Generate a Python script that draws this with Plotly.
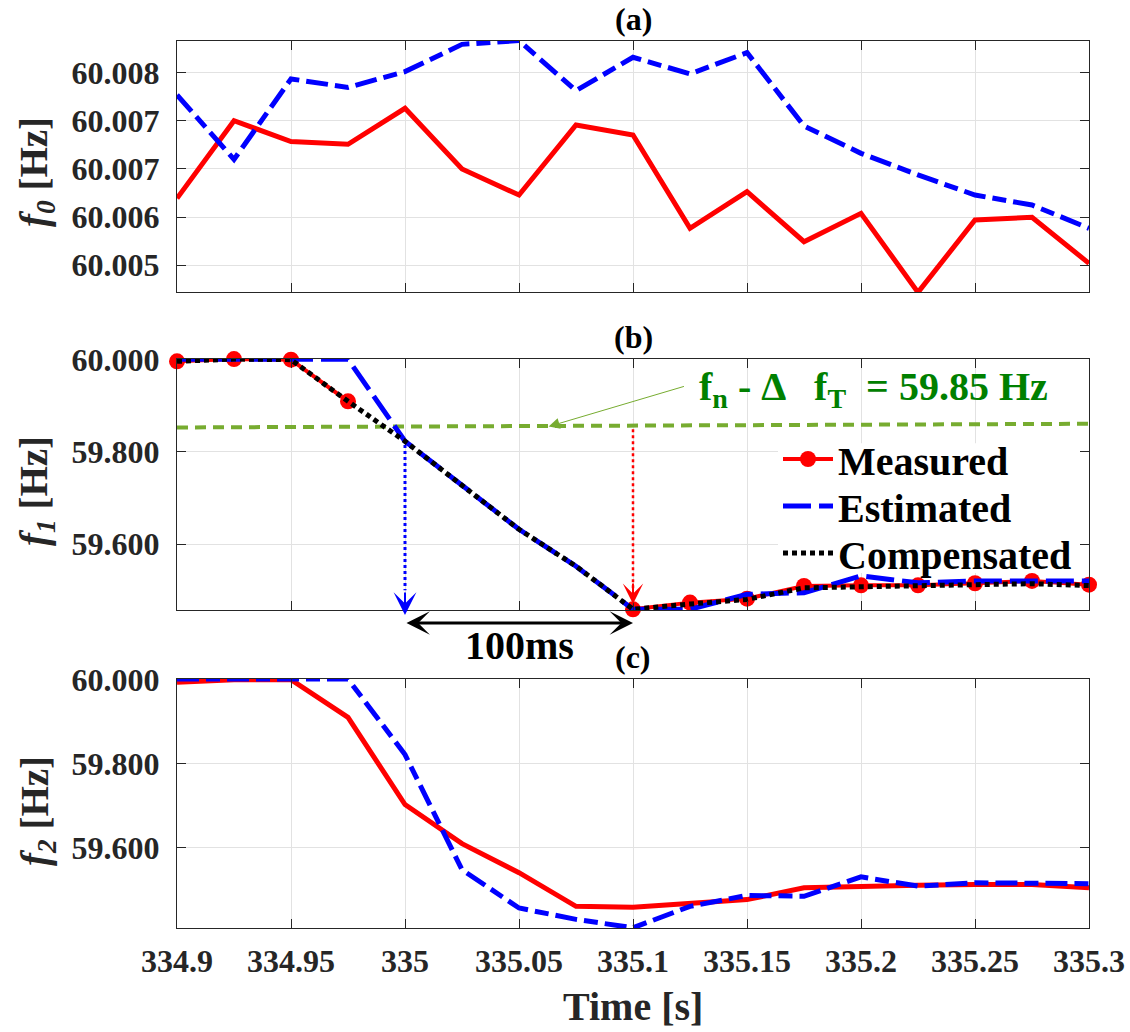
import plotly.graph_objects as go

# ---------------- data ----------------
time = [334.900, 334.925, 334.950, 334.975, 335.000, 335.025, 335.050, 335.075, 335.100,
        335.125, 335.150, 335.175, 335.200, 335.225, 335.250, 335.275, 335.300]

f0_measured = [60.006194, 60.007003, 60.006785, 60.006757, 60.007132, 60.006500, 60.006229, 60.006958,
               60.006854, 60.005882, 60.006264, 60.005743, 60.006038, 60.005215, 60.005969, 60.005997, 60.005517]
f0_estimated = [60.007271, 60.006600, 60.007438, 60.007350, 60.007514, 60.007798, 60.007837, 60.007316,
                60.007663, 60.007490, 60.007712, 60.006948, 60.006663, 60.006438, 60.006229, 60.006125, 60.005882]

f1_measured = [59.9964, 60.0014, 60.0000, 59.9097, None, None, None, None,
               59.4585, 59.4730, 59.4816, 59.5090, 59.5105, 59.5105, 59.5150, 59.5200, 59.5120]
f1_estimated = [60.0010, 60.0010, 60.0010, 60.0010, 59.8230, 59.7260, 59.6320, 59.5520,
                59.4585, 59.4585, 59.4910, 59.4946, 59.5310, 59.5160, 59.5200, 59.5200, 59.5200]
f1_compensated = [59.9964, 60.0014, 60.0000, 59.9097, 59.8230, 59.7260, 59.6320, 59.5520,
                  59.4585, 59.4700, 59.4800, 59.5050, 59.5080, 59.5100, 59.5120, 59.5140, 59.5100]

f2_measured = [59.9937, 60.0000, 60.0000, 59.9105, 59.7030, 59.6100, 59.5410, 59.4610,
               59.4590, 59.4690, 59.4770, 59.5050, 59.5090, 59.5110, 59.5130, 59.5130, 59.5050]
f2_estimated = [60.0016, 60.0016, 60.0016, 60.0016, 59.8220, 59.5480, 59.4570, 59.4300,
                59.4100, 59.4610, 59.4870, 59.4850, 59.5310, 59.5090, 59.5170, 59.5170, 59.5150]

threshold_time = [334.9, 335.3]
threshold_value = [59.853, 59.861]

cross_time = 335.0     # estimated crossing of threshold
settle_time = 335.1    # measured reaches bottom

x_tickvals = [334.9, 334.95, 335.0, 335.05, 335.1, 335.15, 335.2, 335.25, 335.3]
x_ticktext = ["334.9", "334.95", "335", "335.05", "335.1", "335.15", "335.2", "335.25", "335.3"]
ya_tickvals = [60.0075, 60.0070, 60.0065, 60.0060, 60.0055]
ya_ticktext = ["60.008", "60.007", "60.007", "60.006", "60.005"]
yb_tickvals = [59.6, 59.8, 60.0]
yb_ticktext = ["59.600", "59.800", "60.000"]

# ---------------- style ----------------
W, H = 1130, 1032
FONT = "Liberation Serif, 'Times New Roman', Times, serif"
RED, BLUE, BLACK = "#FF0000", "#0000FF", "#000000"
GREEN_LINE, GREEN_TEXT = "#77AC30", "#008000"
AX = "#262626"


def px_x(p):
    return p / W


def px_y(p):
    return 1 - p / H


fig = go.Figure()

# (a)
fig.add_trace(go.Scatter(x=time, y=f0_measured, mode="lines", line=dict(color=RED, width=5),
                         xaxis="x", yaxis="y", showlegend=False))
fig.add_trace(go.Scatter(x=time, y=f0_estimated, mode="lines",
                         line=dict(color=BLUE, width=5, dash="22px,7px,14px,7px"),
                         xaxis="x", yaxis="y", showlegend=False))

# (b)
fig.add_trace(go.Scatter(x=threshold_time, y=threshold_value, mode="lines",
                         line=dict(color=GREEN_LINE, width=4, dash="11px,7px"),
                         xaxis="x2", yaxis="y2", showlegend=False))
fig.add_trace(go.Scatter(x=time, y=f1_measured, mode="lines+markers", name="Measured",
                         line=dict(color=RED, width=4), marker=dict(color=RED, size=16),
                         connectgaps=False, cliponaxis=False, xaxis="x2", yaxis="y2",
                         legend="legend"))
fig.add_trace(go.Scatter(x=time, y=f1_estimated, mode="lines", name="Estimated",
                         line=dict(color=BLUE, width=5, dash="28px,8px"),
                         cliponaxis=False, xaxis="x2", yaxis="y2", legend="legend2"))
fig.add_trace(go.Scatter(x=time, y=f1_compensated, mode="lines", name="Compensated",
                         line=dict(color=BLACK, width=5, dash="5px,4px"),
                         cliponaxis=False, xaxis="x2", yaxis="y2", legend="legend3"))

# (c)
fig.add_trace(go.Scatter(x=time, y=f2_measured, mode="lines", line=dict(color=RED, width=5),
                         cliponaxis=False, xaxis="x3", yaxis="y3", showlegend=False))
fig.add_trace(go.Scatter(x=time, y=f2_estimated, mode="lines",
                         line=dict(color=BLUE, width=5, dash="22px,7px,14px,7px"),
                         cliponaxis=False, xaxis="x3", yaxis="y3", showlegend=False))

xdom = [px_x(177), px_x(1089)]
doms = {
    "a": [px_y(292), px_y(40.7)],
    "b": [px_y(610), px_y(359)],
    "c": [px_y(928), px_y(679)],
}

tickfont = dict(family=FONT, size=32, color=AX, weight="bold")
common = dict(showline=True, linecolor=AX, linewidth=1, mirror="ticks", ticks="inside",
              ticklen=9, tickwidth=1, tickcolor=AX, showgrid=True, gridcolor="#E2E2E2",
              gridwidth=1, zeroline=False, tickfont=tickfont, automargin=False)

xcommon = dict(common, range=[334.9, 335.3], tickvals=x_tickvals, ticktext=x_ticktext, domain=xdom)

legfont = dict(family=FONT, size=40, color=BLACK, weight="bold")
legcommon = dict(x=px_x(778), xanchor="left", yanchor="middle", bgcolor="rgba(0,0,0,0)",
                 borderwidth=0, itemwidth=50, font=legfont)

fig.update_layout(
    width=W, height=H,
    margin=dict(l=0, r=0, t=0, b=0, autoexpand=False),
    paper_bgcolor="white", plot_bgcolor="white",
    xaxis=dict(xcommon, anchor="y", showticklabels=False),
    xaxis2=dict(xcommon, anchor="y2", showticklabels=False),
    xaxis3=dict(xcommon, anchor="y3", showticklabels=True, ticklabelstandoff=5),
    yaxis=dict(common, anchor="x", domain=doms["a"], range=[60.005219, 60.007836],
               tickvals=ya_tickvals, ticktext=ya_ticktext, ticklabelstandoff=10),
    yaxis2=dict(common, anchor="x2", domain=doms["b"], range=[59.457, 60.0015],
                tickvals=yb_tickvals, ticktext=yb_ticktext, ticklabelstandoff=10),
    yaxis3=dict(common, anchor="x3", domain=doms["c"], range=[59.4095, 60.0016],
                tickvals=yb_tickvals, ticktext=yb_ticktext, ticklabelstandoff=10),
    legend=dict(legcommon, y=px_y(459)),
    legend2=dict(legcommon, y=px_y(506)),
    legend3=dict(legcommon, y=px_y(553)),
    showlegend=True,
)

# white area behind the legend (hides grid, stays under the traces)
fig.add_shape(type="rect", xref="x2", yref="y2", x0=335.1636, x1=335.2982, y0=59.537, y1=59.819,
              fillcolor="white", line=dict(width=0), layer="between")

# dotted guide lines (shapes)
fig.add_shape(type="line", xref="x2", yref="y2", x0=cross_time, x1=cross_time,
              y0=f1_compensated[4] - 0.008, y1=59.50,
              line=dict(color=BLUE, width=3, dash="3px,3px"))
fig.add_shape(type="line", xref="x2", yref="y2", x0=settle_time, x1=settle_time,
              y0=threshold_value[0] - 0.004, y1=59.50,
              line=dict(color=RED, width=2.5, dash="3px,3px"))

ann = []
tfont = dict(family=FONT, size=32, color=BLACK, weight="bold")
for label, py in [("(a)", 19), ("(b)", 337), ("(c)", 657)]:
    ann.append(dict(text=label, x=px_x(633), y=px_y(py), xref="paper", yref="paper",
                    xanchor="center", yanchor="middle", showarrow=False, font=tfont))

yfont = dict(family=FONT, size=39, color=AX, weight="bold")
for sub, py in [("0", 172), ("1", 491), ("2", 811)]:
    ann.append(dict(text="<i>f</i><sub><i>%s</i></sub> [Hz]" % sub, textangle=-90,
                    x=px_x(37), y=px_y(py), xref="paper", yref="paper",
                    xanchor="center", yanchor="middle", showarrow=False, font=yfont))

ann.append(dict(text="Time [s]", x=px_x(633), y=px_y(1006), xref="paper", yref="paper",
                xanchor="center", yanchor="middle", showarrow=False,
                font=dict(family=FONT, size=40, color=AX, weight="bold")))

# green threshold label and arrow
ann.append(dict(text="f<sub>n</sub> - Δ   f<sub>T</sub>  = 59.85 Hz", x=px_x(697), y=px_y(389),
                xref="paper", yref="paper", xanchor="left", yanchor="middle", showarrow=False,
                font=dict(family=FONT, size=40, color=GREEN_TEXT, weight="bold")))
ann.append(dict(text="", x=335.063, y=threshold_value[0] + 0.002, xref="x2", yref="y2",
                ax=335.123, ay=59.943, axref="x2", ayref="y2", showarrow=True,
                arrowhead=2, arrowsize=2.2, arrowwidth=1, arrowcolor=GREEN_LINE))

# vertical arrowheads
ann.append(dict(text="", x=cross_time, y=px_y(615), xref="x2", yref="paper",
                ax=0, ay=-24, showarrow=True, arrowhead=3, arrowsize=1.9, arrowwidth=2,
                arrowcolor=BLUE))
ann.append(dict(text="", x=settle_time, y=px_y(604), xref="x2", yref="paper",
                ax=0, ay=-22, showarrow=True, arrowhead=3, arrowsize=1.7, arrowwidth=2,
                arrowcolor=RED))

# 100 ms double arrow
ann.append(dict(text="", x=settle_time, y=px_y(623), xref="x2", yref="paper",
                ax=cross_time, ay=0, axref="x2", showarrow=True, arrowside="end+start",
                arrowhead=3, arrowsize=1.3, arrowwidth=3, arrowcolor=BLACK))
ann.append(dict(text="100ms", x=(cross_time + settle_time) / 2, y=px_y(645), xref="x2", yref="paper",
                xanchor="center", yanchor="middle", showarrow=False,
                font=dict(family=FONT, size=40, color=BLACK, weight="bold")))

fig.update_layout(annotations=ann)

fig.write_html("out.html", config={"displayModeBar": False},
               post_script="document.body.style.margin='0px';")
